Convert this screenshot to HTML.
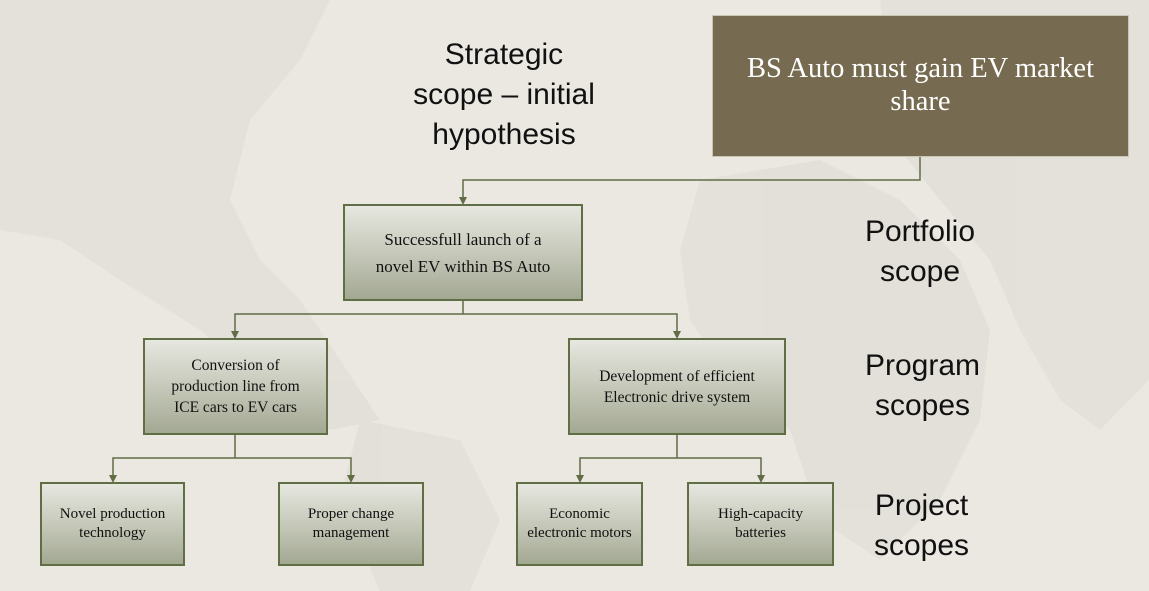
<!DOCTYPE html>
<html><head><meta charset="utf-8"><style>
body{margin:0;width:1149px;height:591px;overflow:hidden;background:#ebe8e2;position:relative;font-family:"Liberation Serif",serif}
.b{position:absolute;box-sizing:border-box;border:2px solid #5f6e45;background:linear-gradient(#e6e7e0,#c3c6b6 55%,#a3a893);display:flex;align-items:center;justify-content:center;text-align:center;color:#111;font-size:15px;line-height:19px}
.l{position:absolute;font-family:"Liberation Sans",sans-serif;font-size:30px;line-height:40px;text-align:center;color:#111}
svg{position:absolute;left:0;top:0}
</style></head><body>
<svg width="1149" height="591">
<g fill="#dddcd3" opacity="0.6">
<path d="M0 0 L330 0 L300 60 L250 120 L230 200 L260 260 L300 300 L340 360 L380 420 L330 430 L260 380 L200 330 L120 280 L60 240 L0 230Z"/>
<path d="M360 420 L460 440 L500 520 L470 591 L380 591 L340 500Z"/>
<path d="M700 180 L820 160 L900 200 L960 260 L990 330 L980 420 L940 500 L880 560 L820 520 L790 430 L730 380 L690 320 L680 250Z"/>
<path d="M880 0 L1149 0 L1149 380 L1100 430 L1060 400 L1020 330 L990 260 L940 200 L900 150Z"/>
</g>
<g stroke="#5f6e45" stroke-width="1.5" fill="none">
<path d="M920 156 V180 H463 V200"/>
<path d="M463 300 V314 H235 V334 M463 314 H677 V334"/>
<path d="M235 434 V458 H113 V478 M235 458 H351 V478"/>
<path d="M677 434 V458 H580 V478 M677 458 H761 V478"/>
</g>
<g fill="#5f6e45">
<path d="M459 197 L467 197 L463 205Z"/>
<path d="M231 331 L239 331 L235 339Z"/><path d="M673 331 L681 331 L677 339Z"/>
<path d="M109 475 L117 475 L113 483Z"/><path d="M347 475 L355 475 L351 483Z"/>
<path d="M576 475 L584 475 L580 483Z"/><path d="M757 475 L765 475 L761 483Z"/>
</g>
</svg>
<div class="b" style="left:712px;top:15px;width:417px;height:142px;background:#766b50;border:1px solid #c9c4b4;color:#fff;font-size:28.5px;line-height:33px;padding:0 10px;padding-top:36px;display:block;white-space:nowrap">BS Auto must gain EV market<br>share</div>
<div class="b" style="left:343px;top:204px;width:240px;height:97px;font-size:17px;line-height:27px">Successfull launch of a<br>novel EV within BS Auto</div>
<div class="b" style="left:143px;top:338px;width:185px;height:97px;font-size:15.5px;line-height:21px">Conversion of<br>production line from<br>ICE cars to EV cars</div>
<div class="b" style="left:568px;top:338px;width:218px;height:97px;font-size:15.5px;line-height:21px">Development of efficient<br>Electronic drive system</div>
<div class="b" style="left:40px;top:482px;width:145px;height:84px">Novel production<br>technology</div>
<div class="b" style="left:278px;top:482px;width:146px;height:84px">Proper change<br>management</div>
<div class="b" style="left:516px;top:482px;width:127px;height:84px">Economic<br>electronic motors</div>
<div class="b" style="left:687px;top:482px;width:147px;height:84px">High-capacity<br>batteries</div>
<div class="l" style="left:374px;top:35px;width:260px">Strategic<br>scope – initial<br>hypothesis</div>
<div class="l" style="left:820px;top:212px;width:200px">Portfolio<br>scope</div>
<div class="l" style="left:820px;top:346px;width:205px">Program<br>scopes</div>
<div class="l" style="left:820px;top:486px;width:203px">Project<br>scopes</div>
</body></html>
